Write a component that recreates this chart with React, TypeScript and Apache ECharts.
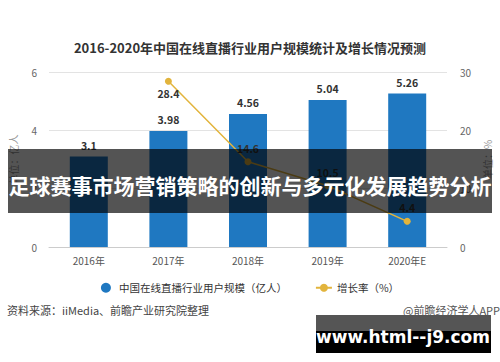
import React, { useEffect, useRef } from "react";
import * as echarts from "echarts";

const categories = ["2016年", "2017年", "2018年", "2019年", "2020年E"];
const userScale = [3.1, 3.98, 4.56, 5.04, 5.26];
const growthRate = [null, 28.4, 14.6, 10.5, 4.4];
const leftTicks = [0, 2, 4, 6];
const rightTicks = [0, 10, 20, 30];

const TITLE = "2016-2020年中国在线直播行业用户规模统计及增长情况预测";
const BAR_NAME = "中国在线直播行业用户规模（亿人）";
const LINE_NAME = "增长率（%）";
const SOURCE = "资料来源：iiMedia、前瞻产业研究院整理";
const CREDIT = "@前瞻经济学人APP";
const BANNER = "足球赛事市场营销策略的创新与多元化发展趋势分析";
const URL_TEXT = "www.html--j9.com";

export default function App() {
  const ref = useRef<HTMLDivElement>(null);
  useEffect(() => {
    if (!ref.current) return;
    const chart = echarts.init(ref.current, null, { renderer: "svg" });
    const font = "'Noto Sans CJK SC', 'Noto Sans', sans-serif";
    const lineData = growthRate.map((v, i) =>
      i === 1
        ? { value: v, label: { position: "bottom", distance: 3 } }
        : v
    );
    chart.setOption({
      animation: false,
      backgroundColor: "#ffffff",
      textStyle: { fontFamily: font },
      title: {
        text: TITLE,
        left: "center",
        top: 36,
        textStyle: { fontSize: 13, fontWeight: "bold", color: "#333", fontFamily: font },
      },
      legend: {
        bottom: 64,
        left: "center",
        itemGap: 28,
        itemWidth: 16,
        itemHeight: 10,
        textStyle: { fontSize: 10.5, color: "#333", fontFamily: font },
        data: [
          { name: BAR_NAME, icon: "circle" },
          { name: LINE_NAME },
        ],
      },
      grid: { left: 48, right: 50, top: 72, bottom: 115 },
      xAxis: {
        type: "category",
        data: categories,
        axisTick: { show: false },
        axisLine: { lineStyle: { color: "#ccc" } },
        axisLabel: { color: "#555", fontSize: 10, margin: 8 },
      },
      yAxis: [
        {
          type: "value",
          min: leftTicks[0],
          max: leftTicks[leftTicks.length - 1],
          interval: 2,
          name: "单位：亿人",
          nameLocation: "middle",
          nameGap: 31,
          nameTextStyle: { color: "#999", fontSize: 10 },
          axisLabel: { color: "#666", fontSize: 10, margin: 12 },
          axisLine: { show: false },
          axisTick: { show: false },
          splitLine: { lineStyle: { color: "#e3e3e3" } },
        },
        {
          type: "value",
          min: rightTicks[0],
          max: rightTicks[rightTicks.length - 1],
          interval: 10,
          name: "单位：%",
          nameLocation: "middle",
          nameGap: 35,
          nameTextStyle: { color: "#999", fontSize: 10 },
          axisLabel: { color: "#666", fontSize: 10, margin: 13 },
          axisLine: { show: false },
          axisTick: { show: false },
          splitLine: { show: false },
        },
      ],
      series: [
        {
          name: BAR_NAME,
          type: "bar",
          data: userScale,
          barWidth: 38,
          itemStyle: { color: "#1f78c1" },
          label: {
            show: true,
            position: "top",
            color: "#333",
            fontSize: 10.5,
            fontWeight: "bold",
            distance: 6,
          },
        },
        {
          name: LINE_NAME,
          type: "line",
          yAxisIndex: 1,
          data: lineData,
          symbol: "circle",
          symbolSize: 7,
          lineStyle: { color: "#e2b43c", width: 1.5 },
          itemStyle: { color: "#e2b43c" },
          label: {
            show: true,
            position: "top",
            color: "#333",
            fontSize: 10.5,
            fontWeight: "bold",
            distance: 5,
          },
        },
      ],
      graphic: [
        {
          type: "text",
          left: 7,
          top: 304,
          style: { text: SOURCE, fontSize: 11, fill: "#444", fontFamily: font },
        },
        {
          type: "text",
          right: 0,
          top: 304,
          style: { text: CREDIT, fontSize: 11, fill: "#555", fontFamily: font },
        },
        {
          type: "rect",
          shape: { x: 8, y: 149, width: 484, height: 64 },
          style: { fill: "rgba(0,0,0,0.67)" },
          z: 100,
        },
        {
          type: "text",
          x: 250,
          y: 185,
          z: 101,
          style: {
            text: BANNER,
            fontSize: 21,
            fontWeight: "bold",
            fill: "#ffffff",
            align: "center",
            verticalAlign: "middle",
            fontFamily: font,
          },
        },
        {
          type: "rect",
          shape: { x: 316, y: 315, width: 175, height: 38 },
          style: { fill: "#000000" },
          z: 100,
        },
        {
          type: "rect",
          shape: { x: 316, y: 315, width: 175, height: 16 },
          style: { fill: "#555555" },
          z: 100,
        },
        {
          type: "text",
          x: 403,
          y: 337,
          z: 101,
          style: {
            text: URL_TEXT,
            fontSize: 17,
            fontWeight: "bold",
            fill: "#ffffff",
            align: "center",
            verticalAlign: "middle",
            fontFamily: "'DejaVu Sans', sans-serif",
          },
        },
      ],
    });
    return () => chart.dispose();
  }, []);
  return (
    <div
      ref={ref}
      style={{ position: "absolute", left: 0, top: 0, width: 500, height: 362 }}
    />
  );
}
